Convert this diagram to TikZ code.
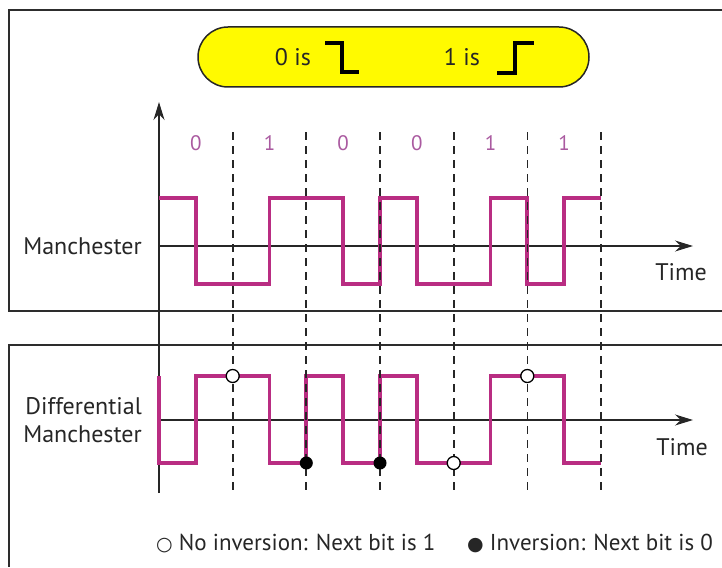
\documentclass[tikz,border=0pt]{standalone}
\usepackage{fontspec}
\setmainfont{PT Sans}
\newfontfamily\symfont{DejaVu Sans}
\usetikzlibrary{arrows.meta,positioning}
\definecolor{wavepink}{RGB}{185,45,130}
\definecolor{bitpink}{RGB}{170,90,160}
\definecolor{framegray}{RGB}{45,45,45}
\definecolor{pillyellow}{RGB}{255,250,0}

\begin{document}
\begin{tikzpicture}[x=1pt,y=-1pt,
  boxline/.style={draw=framegray,line width=1.8pt},
  pill/.style={draw=black!85,line width=1.5pt,fill=pillyellow,rounded corners=30pt,minimum width=391pt,minimum height=60pt},
  timeaxis/.style={-{Stealth[length=18pt,width=11pt]},line width=1.4pt,black!85},
  bitline/.style={dash pattern=on 8pt off 6pt,line width=1.7pt,black!85},
  wave/.style={wavepink,line width=3.8pt,line join=miter},
  stepsym/.style={black,line width=3.5pt},
  txt/.style={font=\fontsize{24}{28}\selectfont,text=black!85,inner sep=0pt},
  legendtxt/.style={font=\fontsize{23}{26}\selectfont,text=black!85,inner sep=0pt,anchor=west},
  bitlabel/.style={font=\fontsize{21}{24}\selectfont,text=bitpink,inner sep=0pt},
  opendot/.style={circle,draw=black,line width=1.3pt,fill=white,inner sep=0pt,minimum size=13pt},
  filleddot/.style={circle,fill=black,inner sep=0pt,minimum size=13pt}
]
\useasboundingbox (0,0) rectangle (722,567);
% panels
\draw[boxline] (722,10) -- (9,10) -- (9,311) -- (722,311);
\draw[boxline] (722,345) -- (9,345) -- (9,567);

% code rule
\node[pill] (rulepill) at (393.5,57) {};
\node[txt] (zerois) at (293,57) {0 is};
\draw[stepsym] (325,43) -- (342,43) -- (342,72) -- (359,72);
\node[txt] (oneis) at (462,57) {1 is};
\draw[stepsym] (497,73) -- (515,73) -- (515,43) -- (534,43);

% axes
\coordinate (ybot) at (159,493);
\coordinate (ytop) at (159,102);
\coordinate (mstart) at (159,246);
\coordinate (mend) at (693,246);
\coordinate (dstart) at (159,420);
\coordinate (dend) at (693,420);
\draw[timeaxis] (ybot) -- (ytop);
\draw[timeaxis] (mstart) -- (mend);
\draw[timeaxis] (dstart) -- (dend);

\node[txt,anchor=east] (manlabel) at (142,246) {Manchester};
\node[txt,anchor=east,align=right] (difflabel) at (142,420) {Differential\\Manchester};
\node[txt] (mantime) at (681,272) {Time};
\node[txt] (difftime) at (682,447) {Time};

% Manchester
\draw[wave] (159,198) -- (196,198) -- (196,284) -- (269.5,284) -- (269.5,198)
  -- (343,198) -- (343,284) -- (380,284) -- (380,198) -- (416.8,198)
  -- (416.8,284) -- (490.5,284) -- (490.5,198) -- (527.3,198) -- (527.3,284)
  -- (564,284) -- (564,198) -- (601,198);

% Differential Manchester
\draw[wave] (159,376) -- (159,463) -- (196,463) -- (196,376) -- (269.5,376)
  -- (269.5,463) -- (306.3,463) -- (306.3,376) -- (343,376) -- (343,463)
  -- (380,463) -- (380,376) -- (416.8,376) -- (416.8,463) -- (490.5,463)
  -- (490.5,376) -- (564,376) -- (564,463) -- (601,463);

% bit cells
\foreach \b [count=\i] in {0,1,0,0,1,1} {
  \node[bitlabel] (bit\i) at ({159+73.67*(\i-0.5)},143) {\b};
  \coordinate (gtop\i) at ({159+73.67*\i},132);
  \coordinate (gbot\i) at ({159+73.67*\i},493);
  \draw[bitline] (gtop\i) -- (gbot\i);
}

% inversion marks
\node[opendot] (keep1) at (232.7,376) {};
\node[filleddot] (flip1) at (306.3,463) {};
\node[filleddot] (flip2) at (380,463) {};
\node[opendot] (keep2) at (453.7,463) {};
\node[opendot] (keep3) at (527.3,376) {};

% legend
\node[legendtxt] (legkeep) at (156,543) {{\symfont\fontsize{19}{22}\selectfont ○}\ No inversion: Next bit is 1};
\node[legendtxt] (legflip) at (467,543) {{\symfont\fontsize{19}{22}\selectfont ●}\ Inversion: Next bit is 0};
\end{tikzpicture}
\end{document}
